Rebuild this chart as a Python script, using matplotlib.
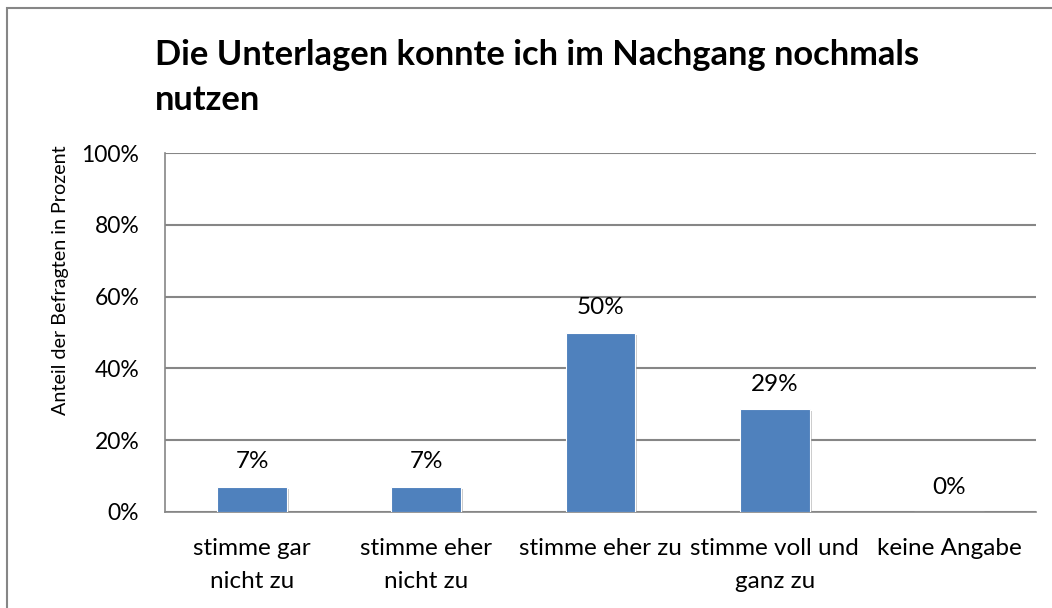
import matplotlib
matplotlib.use("Agg")
import matplotlib.pyplot as plt
import matplotlib.patheffects as pe
from matplotlib.patches import Rectangle

# Data
categories = ["stimme gar\nnicht zu", "stimme eher\nnicht zu", "stimme eher zu",
              "stimme voll und\nganz zu", "keine Angabe"]
values = [7.1, 7.1, 50.0, 28.6, 0.0]
value_labels = ["7%", "7%", "50%", "29%", "0%"]
yticks = [0, 20, 40, 60, 80, 100]
ytick_labels = ["0%", "20%", "40%", "60%", "80%", "100%"]

title_lines = ["Die Unterlagen konnte ich im Nachgang nochmals", "nutzen"]
ylabel = "Anteil der Befragten in Prozent"

plt.rcParams['font.family'] = ['Lato', 'DejaVu Sans']

W, H = 1052, 608
fig = plt.figure(figsize=(W / 100, H / 100), dpi=100)
ax = fig.add_axes([165 / W, 1 - 512 / H, 871 / W, 359 / H])

grid_color = "#868686"
bar_color = "#4F81BD"

x = range(len(categories))
bars = ax.bar(x, values, width=0.4, color=bar_color, edgecolor="white", linewidth=0.8,
              zorder=3)
for b in bars:
    b.set_path_effects([pe.SimplePatchShadow(offset=(1.5, -1.5), shadow_rgbFace="#999999",
                                             alpha=0.5), pe.Normal()])

for xi, v, lab in zip(x, values, value_labels):
    ax.annotate(lab, (xi, v), xytext=(0, 18), textcoords="offset points",
                ha="center", va="center", fontsize=17.5, color="#000000")

ax.set_xlim(-0.5, len(categories) - 0.5)
ax.set_ylim(0, 100)
ax.set_yticks(yticks)
ax.set_yticklabels(ytick_labels, fontsize=16.5)
ax.set_xticks(list(x))
ax.set_xticklabels(categories, fontsize=17.5, linespacing=1.69)
ax.tick_params(axis="both", length=0)
ax.tick_params(axis="y", pad=18.5)
ax.tick_params(axis="x", pad=19)

ax.yaxis.grid(True, color=grid_color, linewidth=1.5, zorder=0)
for s in ["top", "right"]:
    ax.spines[s].set_visible(False)
for s in ["left", "bottom"]:
    ax.spines[s].set_color(grid_color)
    ax.spines[s].set_linewidth(1.2)

fig.text(61 / W, 1 - 280 / H, ylabel, rotation=90, ha="center", va="center",
         fontsize=14.2)
for i, line in enumerate(title_lines):
    fig.text(155 / W, 1 - (65 + 45 * i) / H, line, ha="left", va="baseline",
             fontsize=24.8, fontweight="bold")

# outer chart border
fig.patches.append(Rectangle((7 / W, -0.05), 1.2, 1 - 8 / H + 0.05,
                             transform=fig.transFigure, fill=False,
                             edgecolor=grid_color, linewidth=1.5))

fig.savefig("out.png", dpi=100)
